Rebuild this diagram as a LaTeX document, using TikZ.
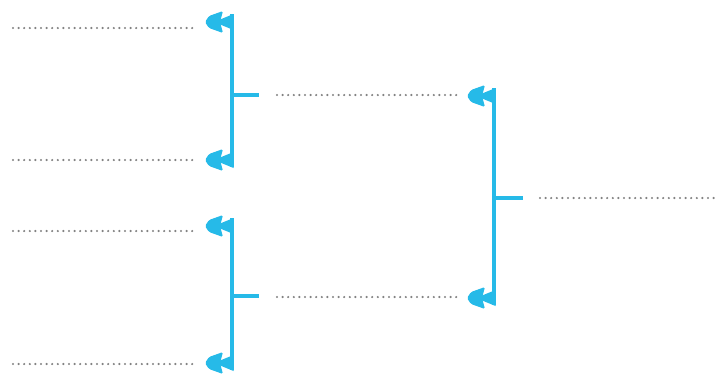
\documentclass[tikz,border=0pt]{standalone}
\definecolor{brk}{RGB}{38,186,232}
\definecolor{dotc}{RGB}{130,130,130}
\begin{document}
\begin{tikzpicture}[x=1pt,y=-1pt,
  bracket/.style={draw=brk,line width=4.8pt,line join=miter},
  stub/.style={draw=brk,line width=4.8pt},
  dots/.style={draw=dotc,line width=2.4pt,line cap=round,dash pattern=on 0pt off 5.6pt},
  fletch/.pic={
    \fill[brk,rounded corners=1.5pt] (-9,-11) -- (-23,-6) -- (-27,0) -- (-23,6) -- (-9,11) -- (-12,0) -- cycle;
    \fill[brk] (1.5,-8) -- (1.5,8) -- (-18,0) -- cycle;
  }]
\useasboundingbox (0,0) rectangle (718,376);
% left inputs
\coordinate (i1s) at (13,28);  \coordinate (i1e) at (196,28);
\coordinate (i2s) at (13,160); \coordinate (i2e) at (196,160);
\coordinate (i3s) at (13,231); \coordinate (i3e) at (196,231);
\coordinate (i4s) at (13,364); \coordinate (i4e) at (196,364);
% bracket A
\coordinate (a1) at (232,22);  \coordinate (a1t) at (232,14);
\coordinate (a2) at (232,160); \coordinate (a2b) at (232,167);
\coordinate (am) at (232,95);  \coordinate (ao) at (259,95);
% bracket B
\coordinate (b1) at (232,226); \coordinate (b1t) at (232,218);
\coordinate (b2) at (232,363); \coordinate (b2b) at (232,370);
\coordinate (bm) at (232,296); \coordinate (bo) at (259,296);
% middle lines
\coordinate (m1s) at (277,95);  \coordinate (m1e) at (460,95);
\coordinate (m2s) at (277,297); \coordinate (m2e) at (460,297);
% bracket C
\coordinate (c1) at (494,96);  \coordinate (c1t) at (494,88);
\coordinate (c2) at (494,298); \coordinate (c2b) at (494,305);
\coordinate (cm) at (494,198); \coordinate (co) at (523,198);
\coordinate (os) at (540,198); \coordinate (oe) at (718,198);

\foreach \s/\e in {i1s/i1e,i2s/i2e,i3s/i3e,i4s/i4e,m1s/m1e,m2s/m2e,os/oe}
  \draw[dots] (\s) -- (\e);
\draw[bracket] (a1t) -- (a2b);
\draw[bracket] (b1t) -- (b2b);
\draw[bracket] (c1t) -- (c2b);
\foreach \p in {a1,a2,b1,b2,c1,c2}
  \pic at (\p) {fletch};
\draw[stub] (am) -- (ao);
\draw[stub] (bm) -- (bo);
\draw[stub] (cm) -- (co);
\end{tikzpicture}
\end{document}
